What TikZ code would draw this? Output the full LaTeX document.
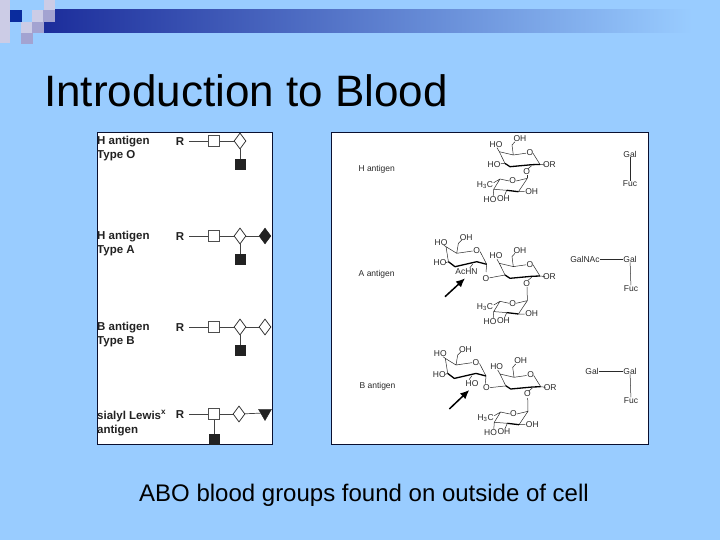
\documentclass[tikz,border=0pt]{standalone}
\usepackage{fontspec}
\setmainfont{Liberation Sans}
\usetikzlibrary{shapes.geometric,arrows.meta}
\definecolor{bgblue}{HTML}{99CCFF}
\definecolor{barstart}{HTML}{1C2D9B}
\definecolor{sqdark}{HTML}{0A2C9E}
\definecolor{sqlight}{HTML}{CCCCE6}
\definecolor{sqmid}{HTML}{A3A3D1}
\definecolor{ink}{HTML}{222222}
\definecolor{chem}{HTML}{2A2A2A}
\definecolor{panelline}{HTML}{0A1030}
\tikzset{
  panel/.style={fill=white,draw=panelline,line width=0.9pt},
  txt/.style={inner sep=0pt,text=black},
  lab/.style={inner sep=0pt,anchor=west,yshift=-1pt,text=ink,font=\fontsize{11.5}{13}\selectfont\bfseries},
  rlab/.style={inner sep=0pt,yshift=-1pt,text=ink,font=\fontsize{11.5}{13}\selectfont\bfseries},
  wsq/.style={draw=ink!80,fill=white,line width=0.7pt,minimum size=11pt,inner sep=0pt,rectangle},
  bsq/.style={draw=ink,fill=ink,minimum size=10pt,inner sep=0pt,rectangle},
  wdia/.style={draw=ink,fill=white,line width=0.7pt,diamond,minimum width=12pt,minimum height=16pt,inner sep=0pt,aspect=0.75},
  bdia/.style={draw=ink,fill=ink,diamond,minimum width=12pt,minimum height=16pt,inner sep=0pt,aspect=0.75},
  btri/.style={draw=ink,fill=ink,regular polygon,regular polygon sides=3,shape border rotate=180,minimum size=15pt,inner sep=0pt},
  lnk/.style={draw=ink!85,line width=0.7pt},
  cl/.style={draw=chem,line width=0.5pt},
  cb/.style={draw=black,line width=1.3pt,line join=round},
  ct/.style={inner sep=0pt,text=chem,font=\fontsize{8.5}{9}\selectfont},
  gl/.style={inner sep=0pt,text=chem,font=\fontsize{8.5}{9}\selectfont},
  fatarrow/.style={draw=black,line width=1.5pt,-{Latex[length=9pt,width=8pt]}},
  galcore/.pic={
    \draw[cl] (-33,-5)--(-30.7,-1)--(-16.7,2.3)--(-4,0.5) (3,0.5)--(10,11.7)
      (-25,10.7)--(-30.7,-1) (-16.7,2.3)--(-18,-7.7)--(-15,-11);
    \draw[cb] (-25,10.7)--(-20,14)--(1.7,12)--(10,11.7);
    \draw[cl] (10,11.7)--(15,12.3) (1.7,13)--(-2,16);
    \node[ct] at (0,0) {O};
    \node[ct] at (-34,-8.5) {HO};
    \node[ct] at (-10,-14) {OH};
    \node[ct] at (19.5,12.3) {OR};
    \node[ct] at (-3.3,19) {O};
  },
  fucring/.pic={
    \draw[cl] (-19,1.7)--(-12.7,-2)--(-3.5,0) (3.5,0)--(14.7,-2.7)
      (-12.7,-2)--(-19,8.3)--(-6,9.3) (14.7,-2.7)--(5.7,10.7)
      (-19,8.3)--(-19.5,15) (-6,9.3)--(-8,14) (5.7,10.7)--(12,10.7);
    \draw[cb] (-6,9.3)--(5.7,10.7);
    \node[ct] at (0,0) {O};
    \node[ct] at (-27.7,4) {H\textsubscript{3}C};
    \node[ct] at (19,10.7) {OH};
    \node[ct] at (-9.3,17.5) {OH};
    \node[ct] at (-22.7,18.5) {HO};
  },
  leftring/.pic={
    \draw[cl] (-33,-6)--(-30.7,-4.3)--(-20,2.3)--(-4,0) (3.5,0.7)--(10,13.3)
      (-28.3,10.7)--(-30.7,-4.3) (-20,2.3)--(-18.3,-7.7)--(-15,-11)
      (-31,11.7)--(-28.3,10.7) (10,13.3)--(9.3,21);
    \draw[cb] (-28.3,10.7)--(-21.7,15.7)--(0,10.7)--(10,13.3);
    \draw[cl] (-4,13)--(-7,17);
    \node[ct] at (0,0) {O};
    \node[ct] at (-35.7,-8.7) {HO};
    \node[ct] at (-10.5,-13.5) {OH};
    \node[ct] at (-36.7,11.7) {HO};
  },
}
\begin{document}
\begin{tikzpicture}[x=1pt,y=-1pt]
\useasboundingbox (0,0) rectangle (720,540);
\fill[bgblue] (0,0) rectangle (720,540);
% template decoration
\shade[left color=barstart,right color=bgblue] (44,10) rectangle (692,33);
\fill[sqlight] (0,0) rectangle (10,43);
\fill[sqdark] (10,10) rectangle (22,22);
\fill[sqlight] (32,10) rectangle (44,22);
\fill[sqmid] (43,10) rectangle (55,22);
\fill[sqlight] (44,0) rectangle (55,10);
\fill[sqlight] (21,22) rectangle (32,33);
\fill[sqmid] (32,22) rectangle (44,33);
\fill[sqmid] (21,33) rectangle (33,44);
% title and caption
\node[txt,anchor=base west,font=\fontsize{44}{48}\selectfont] (title) at (44,107) {Introduction to Blood};
\node[txt,anchor=base west,font=\fontsize{24}{28}\selectfont] (caption) at (139,501) {ABO blood groups found on outside of cell};
% left panel
\node[panel,minimum width=175pt,minimum height=311pt,inner sep=0pt,anchor=north west] (leftpanel) at (96.5,132.5) {};
\node[lab] (l1a) at (97,141) {H antigen};
\node[lab] (l1b) at (97,155) {Type O};
\node[lab] (l2a) at (97,236) {H antigen};
\node[lab] (l2b) at (97,250) {Type A};
\node[lab] (l3a) at (97,327) {B antigen};
\node[lab] (l3b) at (97,341) {Type B};
\node[lab] (l4a) at (97,415) {sialyl Lewis\textsuperscript{x}};
\node[lab] (l4b) at (97,430) {antigen};
% row 1
\node[rlab] (ra) at (180,141) {R};
\node[wsq] (sa) at (214,141) {};
\node[wdia] (da) at (240,141) {};
\node[bsq] (ba) at (240,164) {};
\coordinate (ra1) at (189,141);
\draw[lnk] (ra1) -- (sa); \draw[lnk] (sa) -- (da); \draw[lnk] (da) -- (ba);
% row 2
\node[rlab] (rb) at (180,236) {R};
\node[wsq] (sb) at (214,236) {};
\node[wdia] (db) at (240,236) {};
\node[bdia] (eb) at (265,236) {};
\node[bsq] (bb) at (240,259) {};
\coordinate (rb1) at (189,236);
\draw[lnk] (rb1) -- (sb); \draw[lnk] (sb) -- (db); \draw[lnk] (db) -- (eb); \draw[lnk] (db) -- (bb);
% row 3
\node[rlab] (rc) at (180,327) {R};
\node[wsq] (sc) at (214,327) {};
\node[wdia] (dc) at (240,327) {};
\node[wdia] (ec) at (265,327) {};
\node[bsq] (bc) at (240,350) {};
\coordinate (rc1) at (189,327);
\draw[lnk] (rc1) -- (sc); \draw[lnk] (sc) -- (dc); \draw[lnk] (dc) -- (ec); \draw[lnk] (dc) -- (bc);
% row 4
\node[rlab] (rd) at (180,414) {R};
\node[wsq] (sd) at (214,414) {};
\node[wdia] (dd) at (239,414) {};
\node[btri] (td) at (265,413) {};
\node[bsq] (bd) at (214,439) {};
\coordinate (rd1) at (189,414);
\draw[lnk] (rd1) -- (sd); \draw[lnk] (sd) -- (dd); \draw[lnk] (dd) -- (td); \draw[lnk] (sd) -- (bd);
% right panel
\node[panel,minimum width=317pt,minimum height=311pt,inner sep=0pt,anchor=north west] (rightpanel) at (330.5,132.5) {};
\node[gl] (hname) at (376.7,169) {H antigen};
\node[gl] (aname) at (376.7,274) {A antigen};
\node[gl] (bname) at (377.5,386) {B antigen};
% H structure
\pic at (530,152.7) {galcore};
\node[ct] (hho) at (494,164.4) {HO};
\draw[cl] (hho) -- (505,163.4);
\pic at (512.7,181) {fucring};
\draw[cl] (527.4,175.5) -- (527.4,178.3);
\node[gl] (hgal) at (630,154) {Gal};
\node[gl] (hfuc) at (630,184) {Fuc};
\draw[cl] (hgal) -- (hfuc);
% A structure
\pic at (530,264.3) {galcore};
\pic at (512.7,303.3) {fucring};
\draw[cl] (527,287) -- (527.4,300.6);
\pic at (476.7,251) {leftring};
\node[ct] (aO) at (486,278.5) {O};
\node[ct] (ac) at (466.5,271.5) {AcHN};
\draw[cl] (aO) -- (505,275);
\coordinate (aA1) at (445,296.7); \coordinate (aA2) at (465,278.3);
\draw[fatarrow] (aA1) -- (aA2);
\node[gl] (agn) at (585,259) {GalNAc};
\node[gl] (agal) at (630,259) {Gal};
\node[gl] (afuc) at (631,288.5) {Fuc};
\draw[cl] (agn) -- (agal); \draw[cl] (agal) -- (afuc);
% B structure
\pic at (530.7,375) {galcore};
\pic at (513.3,414) {fucring};
\draw[cl] (527.7,398) -- (528,411.3);
\pic at (476,362.7) {leftring};
\node[ct] (bO) at (486.5,388) {O};
\node[ct] (bh) at (472,384) {HO};
\draw[cl] (bO) -- (505,386);
\coordinate (bA1) at (449.3,409); \coordinate (bA2) at (469.3,390);
\draw[fatarrow] (bA1) -- (bA2);
\node[gl] (bg1) at (592,371) {Gal};
\node[gl] (bg2) at (630,371) {Gal};
\node[gl] (bfuc) at (631,400.5) {Fuc};
\draw[cl] (bg1) -- (bg2); \draw[cl] (bg2) -- (bfuc);
\end{tikzpicture}
\end{document}
